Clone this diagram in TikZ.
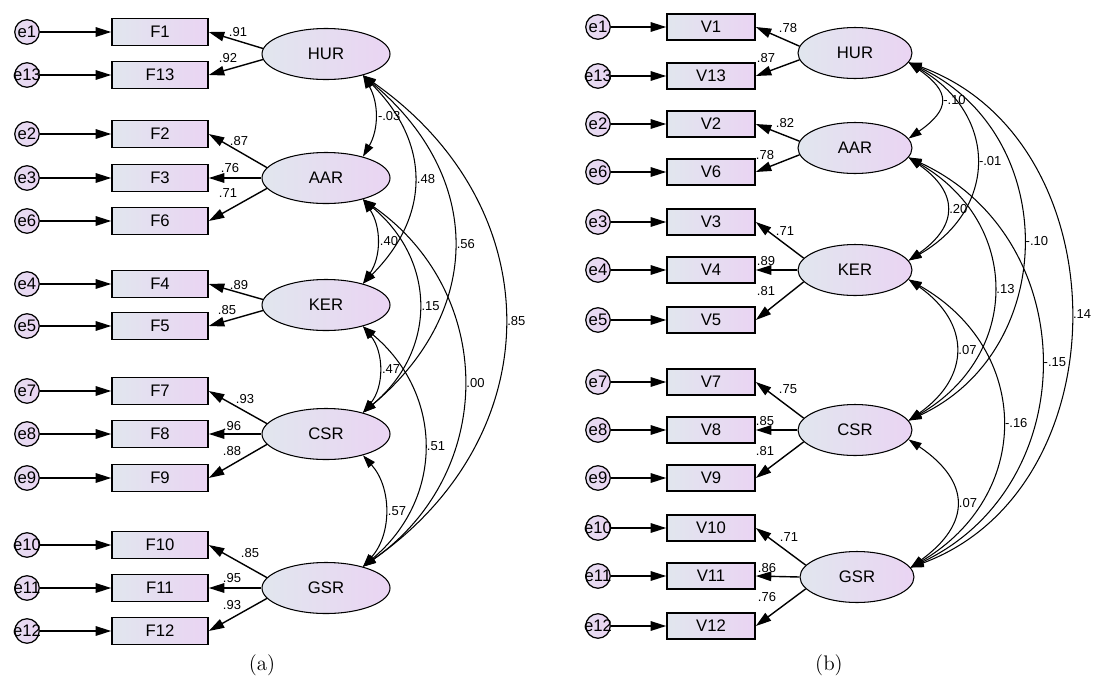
\documentclass[tikz,border=0pt]{standalone}
\usepackage{fontspec}
\newfontfamily\amosfont{Liberation Sans}
\usetikzlibrary{arrows.meta, shapes.geometric}
\definecolor{semgray}{HTML}{E1E6EE}
\definecolor{semlilac}{HTML}{EAD4F3}
\tikzset{
  semerr/.style={circle, draw=black, line width=0.7pt, left color=semgray!50!semlilac,
    right color=semlilac, minimum size=4.9mm, inner sep=0pt,
    font=\amosfont\fontsize{9.5}{11}\selectfont},
  semobs/.style={rectangle, draw=black, line width=0.9pt, left color=semgray,
    right color=semlilac, minimum width=19.2mm, minimum height=5.4mm, inner sep=0pt,
    font=\amosfont\fontsize{9.5}{11}\selectfont},
  semlat/.style={ellipse, draw=black, line width=0.6pt, left color=semgray,
    right color=semlilac, minimum width=25.6mm, minimum height=10.2mm, inner sep=0pt,
    font=\amosfont\fontsize{9.5}{11}\selectfont},
  sempath/.style={-{Triangle[length=3.1mm, width=1.9mm]}, line width=0.8pt},
  semcov/.style={{Triangle[length=2.6mm, width=1.7mm]}-{Triangle[length=2.6mm, width=1.7mm]},
    line width=0.6pt},
  semcoef/.style={font=\amosfont\fontsize{7.4}{8}\selectfont, inner sep=1.5pt},
}

\begin{document}
\begin{tikzpicture}[x=0.2mm, y=0.2mm]
  \useasboundingbox (0,0) rectangle (1098,-689);
  % (a) linkes Modell
  \foreach \n/\y in {1/32, 13/75, 2/134, 3/178, 6/221, 4/284, 5/326, 7/391, 8/434, 9/478, 10/545, 11/588, 12/631}{
    \node[semerr] (le\n) at (27,-\y) {\makebox[0pt]{e\n}};
    \node[semobs] (F\n) at (160,-\y) {F\n};
    \draw[sempath] (le\n) -- (F\n);
  }
  \node[semlat] (lHUR) at (326,-54) {HUR};
  \node[semlat] (lAAR) at (326,-178) {AAR};
  \node[semlat] (lKER) at (326,-305) {KER};
  \node[semlat] (lCSR) at (326,-434) {CSR};
  \node[semlat] (lGSR) at (326,-588) {GSR};
  \foreach \lat/\ang/\ind/\val/\lx/\ly in {HUR/175/1/.91/238/32, HUR/185/13/.92/228/58,
      AAR/170/2/.87/239/141, AAR/180/3/.76/230/168, AAR/190/6/.71/228/193,
      KER/175/4/.89/239/285, KER/185/5/.85/227/310,
      CSR/170/7/.93/245/399, CSR/180/8/.96/232/426, CSR/190/9/.88/232/451,
      GSR/170/10/.85/250/553, GSR/180/11/.95/232/578, GSR/190/12/.93/232/605}{
    \draw[sempath] (l\lat.\ang) -- (F\ind.east);
    \node[semcoef] (lc\ind) at (\lx,-\ly) {\val};
  }
  \foreach \a/\b/\bend/\loose/\val in {HUR/AAR/30/1/-.03, HUR/KER/45/1.18/.48,
      HUR/CSR/50/1.2/.56, HUR/GSR/55/1.2/.85, AAR/KER/34/1/.40, AAR/CSR/50/1.16/.15,
      AAR/GSR/55/1.14/.00, KER/CSR/39/1/.47, KER/GSR/50/1.13/.51, CSR/GSR/42/1/.57}{
    \draw[semcov] (l\a.-30) to[bend left=\bend, looseness=\loose]
      node[semcoef, right] {\val} (l\b.30);
  }
  \node[font=\large] (capa) at (262,-665) {(a)};
  % (b) rechtes Modell
  \foreach \n/\y in {1/27, 13/76, 2/124, 6/172, 3/222, 4/270, 5/320, 7/382, 8/430, 9/478, 10/528, 11/576, 12/626}{
    \node[semerr] (re\n) at (598,-\y) {\makebox[0pt]{e\n}};
    \node[semobs, minimum width=17.6mm, minimum height=5.2mm] (V\n) at (711,-\y) {V\n};
    \draw[sempath] (re\n) -- (V\n);
  }
  \node[semlat, minimum width=22.8mm] (rHUR) at (855,-53) {HUR};
  \node[semlat, minimum width=22.8mm] (rAAR) at (855,-148) {AAR};
  \node[semlat, minimum width=22.8mm] (rKER) at (855,-270) {KER};
  \node[semlat, minimum width=22.8mm] (rCSR) at (855,-430) {CSR};
  \node[semlat, minimum width=22.8mm] (rGSR) at (857,-577) {GSR};
  \foreach \lat/\ang/\ind/\val/\lx/\ly in {HUR/173/1/.78/788/28, HUR/187/13/.87/766/58,
      AAR/173/2/.82/785/123, AAR/187/6/.78/765/155,
      KER/167/3/.71/785/231, KER/180/4/.89/766/261, KER/193/5/.81/766/291,
      CSR/167/7/.75/788/389, CSR/180/8/.85/765/421, CSR/193/9/.81/765/451,
      GSR/167/10/.71/789/537, GSR/180/11/.86/767/568, GSR/193/12/.76/767/597}{
    \draw[sempath] (r\lat.\ang) -- (V\ind.east);
    \node[semcoef] (rc\ind) at (\lx,-\ly) {\val};
  }
  \foreach \a/\b/\bend/\loose/\val in {HUR/AAR/55/1.73/-.10, HUR/KER/60/1.34/-.01,
      HUR/CSR/65/1.2/-.10, HUR/GSR/70/1.15/.14, AAR/KER/55/1.52/.20, AAR/CSR/60/1.27/.13,
      AAR/GSR/65/1.2/-.15, KER/CSR/55/1.38/.07, KER/GSR/60/1.26/-.16, CSR/GSR/55/1.5/.07}{
    \draw[semcov] (r\a.-10) to[bend left=\bend, looseness=\loose]
      node[semcoef, right] {\val} (r\b.10);
  }
  \node[font=\large] (capb) at (829,-665) {(b)};
\end{tikzpicture}
\end{document}
